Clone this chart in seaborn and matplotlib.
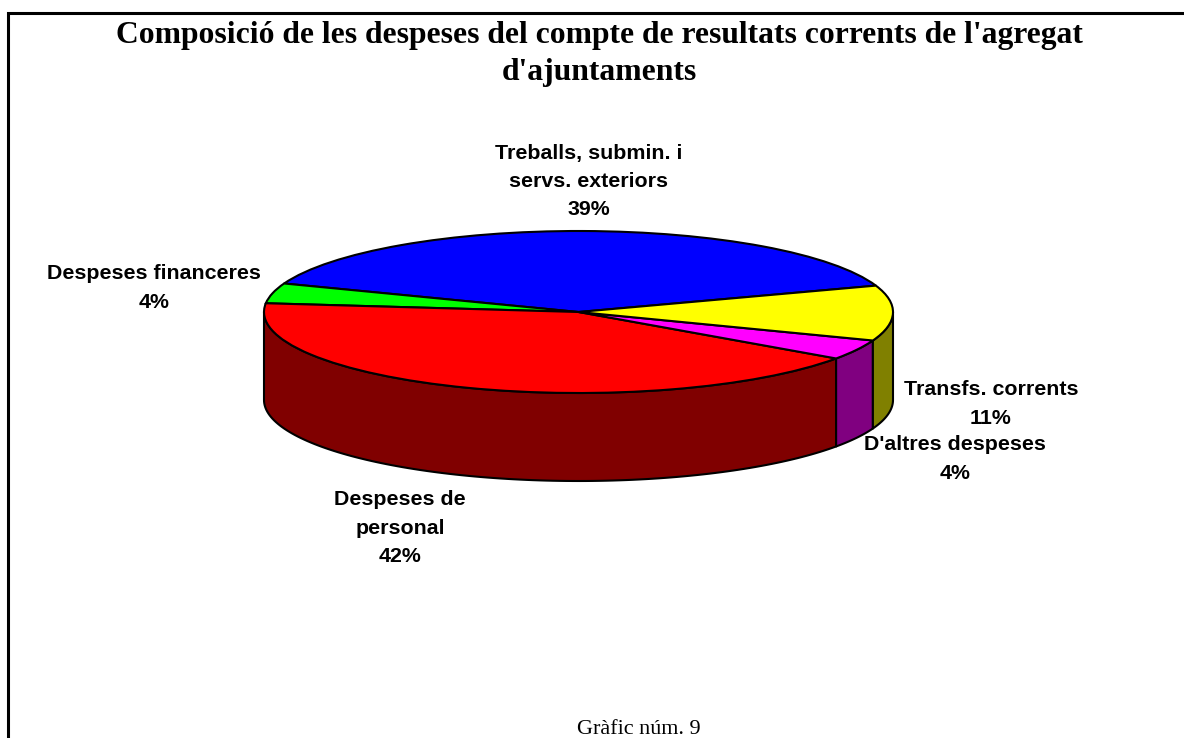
import numpy as np
import matplotlib
matplotlib.use("Agg")
import matplotlib.pyplot as plt
from matplotlib.lines import Line2D
import seaborn as sns

W, H = 1184, 738

title = "Composició de les despeses del compte de resultats corrents de l'agregat\nd'ajuntaments"
caption = "Gràfic núm. 9"

categories = ["Treballs, submin. i\nservs. exteriors", "Despeses financeres", "Despeses de\npersonal",
              "D'altres despeses", "Transfs. corrents"]
shares = [39, 4, 42, 4, 11]

top_colors = ["#0000ff", "#00ff00", "#ff0000", "#ff00ff", "#ffff00"]
wall_colors = ["#000080", "#008000", "#800000", "#800080", "#808000"]

# pixel geometry of the pie
cx, cy, rx, ry = 578.5, 312, 314.5, 81
depth = 88 / ry
start = 19

label_pos = [(588.5, 181.5), (154, 288), (400, 528), (955, 459), (991, 404)]

sns.set_theme(style="white")
plt.rcParams["font.family"] = ["Liberation Sans", "DejaVu Sans"]

fig = plt.figure(figsize=(W / 100, H / 100), dpi=100, facecolor="white")
ax = fig.add_axes([0, 0, 1, 1])

# side walls first, only the front half of the rim shows
edges = start + np.cumsum([0] + shares) * 3.6
for i in range(len(shares)):
    lo, hi = edges[i], edges[i + 1]
    lo2, hi2 = max(lo, 180), min(hi, 360)
    if hi2 <= lo2:
        continue
    t = np.radians(np.linspace(lo2, hi2, 120))
    xs = np.r_[np.cos(t), np.cos(t[::-1])]
    ys = np.r_[np.sin(t), np.sin(t[::-1]) - depth]
    ax.fill(xs, ys, facecolor=wall_colors[i], edgecolor="black", linewidth=1.5, joinstyle="round")

ax.pie(shares, colors=sns.color_palette(top_colors), startangle=start, radius=1, center=(0, 0),
       wedgeprops={"edgecolor": "black", "linewidth": 1.5})

# pie() forces equal aspect, undo it so the disc becomes the flat ellipse
ax.set_aspect("auto")
ax.set_xlim((0 - cx) / rx, (W - cx) / rx)
ax.set_ylim((cy - H) / ry, cy / ry)
ax.axis("off")


def px(x, y):
    return x / W, 1 - y / H


for name, share, (x, y) in zip(categories, shares, label_pos):
    fig.text(*px(x, y), f"{name}\n{share}%", ha="center", va="center", ma="center",
             fontsize=15.4, fontweight="bold", color="black", linespacing=1.63)

fig.text(*px(599.5, 54), title, ha="center", va="center", ma="center", family="Liberation Serif",
         fontsize=22.8, fontweight="bold", color="black", linespacing=1.32)
fig.text(*px(639, 734.5), caption, ha="center", va="baseline", family="Liberation Serif",
         fontsize=15.9, color="black")

# frame runs off the picture on the right and bottom
fig.add_artist(Line2D([7.5 / W, 7.5 / W, 1], [0, 1 - 12.5 / H, 1 - 12.5 / H], color="black",
                      linewidth=2.2, solid_joinstyle="miter", solid_capstyle="butt"))

fig.savefig("out.png", dpi=100, facecolor="white")
